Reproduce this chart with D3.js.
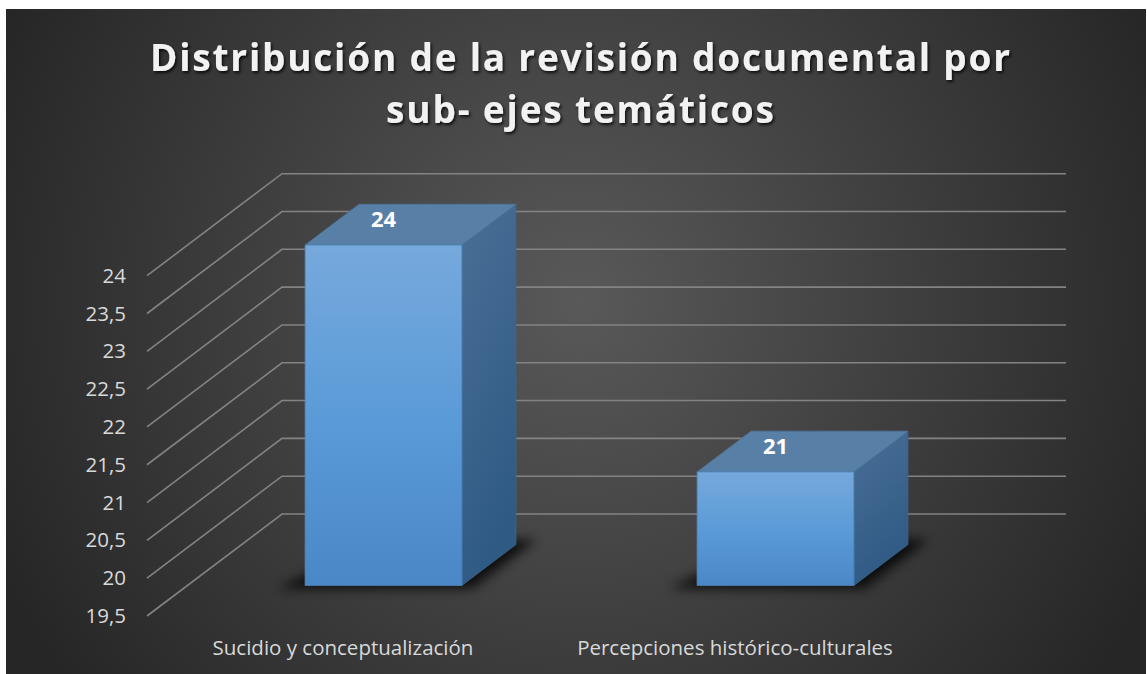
<!DOCTYPE html>
<html>
<head>
<meta charset="utf-8">
<script src="https://cdn.jsdelivr.net/npm/d3@7"></script>
<style>
  html, body { margin: 0; padding: 0; background: #fff; }
  svg { display: block; }
  text { font-family: "Open Sans", "Noto Sans", sans-serif; }
</style>
</head>
<body>
<svg width="1147" height="674"></svg>
<script>
// chart data
const categories = ['Sucidio y conceptualización', 'Percepciones histórico-culturales'];
const values = [24, 21];
const titleLines = ['Distribución de la revisión documental por', 'sub- ejes temáticos'];
const yMin = 19.5, yMax = 24;

const svg = d3.select('svg'),
      width = +svg.attr('width'),
      height = +svg.attr('height');

const defs = svg.append('defs');

const bg = defs.append('radialGradient')
    .attr('id', 'bg')
    .attr('gradientUnits', 'userSpaceOnUse')
    .attr('cx', 580).attr('cy', 300).attr('r', 640);
bg.append('stop').attr('offset', '0%').attr('stop-color', '#595959');
bg.append('stop').attr('offset', '100%').attr('stop-color', '#262626');

const front = defs.append('linearGradient')
    .attr('id', 'front').attr('x1', 0).attr('y1', 0).attr('x2', 0).attr('y2', 1);
front.append('stop').attr('offset', '0%').attr('stop-color', '#76a9dc');
front.append('stop').attr('offset', '50%').attr('stop-color', '#5b9bd8');
front.append('stop').attr('offset', '100%').attr('stop-color', '#4a87c6');

const side = defs.append('linearGradient')
    .attr('id', 'side').attr('x1', 0).attr('y1', 0).attr('x2', 0.3).attr('y2', 1);
side.append('stop').attr('offset', '0%').attr('stop-color', '#4a6f96');
side.append('stop').attr('offset', '100%').attr('stop-color', '#2f5a84');

const blur = defs.append('filter').attr('id', 'blur')
    .attr('x', '-20%').attr('y', '-50%').attr('width', '140%').attr('height', '200%');
blur.append('feGaussianBlur').attr('stdDeviation', 6);

const tshadow = defs.append('filter').attr('id', 'tshadow');
tshadow.append('feDropShadow')
    .attr('dx', 1.5).attr('dy', 2).attr('stdDeviation', 1.5)
    .attr('flood-color', '#000').attr('flood-opacity', 0.8);

// chart area
svg.append('rect')
    .attr('x', 6).attr('y', 9)
    .attr('width', width - 7).attr('height', height - 9)
    .attr('fill', 'url(#bg)');

// 3d geometry: front plane + depth vector
const originX = 147,
      floorW = 784,
      depthX = 135,
      depthY = -102,
      barD0 = 0.30,
      barD1 = 0.70;

const y = d3.scaleLinear().domain([yMin, yMax]).range([616, 275.7]);
const x = d3.scaleBand().domain(categories).range([0, floorW])
    .paddingInner(0.6).paddingOuter(0.3);

const proj = (px, v, d) => [originX + px + depthX * d, y(v) + depthY * d];

const fmt = d3.formatLocale({decimal: ',', thousands: '.', grouping: [3], currency: ['', '']}).format('~g');
const ticks = y.ticks(10);

// gridlines
svg.append('g')
  .selectAll('path')
  .data(ticks)
  .join('path')
    .attr('d', t => d3.line()([proj(0, t, 0), proj(0, t, 1), proj(floorW, t, 1)]))
    .attr('fill', 'none')
    .attr('stroke', '#838383')
    .attr('stroke-width', 1.6);

// tick labels
svg.append('g')
  .selectAll('text')
  .data(ticks)
  .join('text')
    .attr('x', 126)
    .attr('y', t => y(t) + 7)
    .attr('text-anchor', 'end')
    .attr('font-size', 20.5)
    .attr('fill', '#d9d9d9')
    .text(t => fmt(t));

// bars
const bars = svg.append('g')
  .selectAll('g')
  .data(values.map((v, i) => ({cat: categories[i], v})))
  .join('g');

// floor shadow
bars.append('path')
    .attr('d', d => {
      const x0 = x(d.cat) - 24, x1 = x(d.cat) + x.bandwidth() + 14;
      return d3.line()([proj(x0, yMin, barD0 - 0.03), proj(x1, yMin, barD0 - 0.03),
                        proj(x1, yMin, barD1 + 0.05), proj(x0 + 40, yMin, barD1 + 0.05)]) + 'Z';
    })
    .attr('fill', '#000')
    .attr('opacity', 0.8)
    .attr('filter', 'url(#blur)');

bars.append('path')
    .attr('d', d => {
      const x0 = x(d.cat), x1 = x0 + x.bandwidth();
      return d3.line()([proj(x1, d.v, barD0), proj(x1, d.v, barD1),
                        proj(x1, yMin, barD1), proj(x1, yMin, barD0)]) + 'Z';
    })
    .attr('fill', 'url(#side)')
    .attr('stroke', '#3d6791').attr('stroke-width', 0.8);

bars.append('path')
    .attr('d', d => {
      const x0 = x(d.cat), x1 = x0 + x.bandwidth();
      return d3.line()([proj(x0, d.v, barD0), proj(x1, d.v, barD0),
                        proj(x1, d.v, barD1), proj(x0, d.v, barD1)]) + 'Z';
    })
    .attr('fill', '#587fa6')
    .attr('stroke', '#4c76a0').attr('stroke-width', 0.8);

bars.append('path')
    .attr('d', d => {
      const x0 = x(d.cat), x1 = x0 + x.bandwidth();
      return d3.line()([proj(x0, d.v, barD0), proj(x1, d.v, barD0),
                        proj(x1, yMin, barD0), proj(x0, yMin, barD0)]) + 'Z';
    })
    .attr('fill', 'url(#front)')
    .attr('stroke', '#4f86bd').attr('stroke-width', 0.8);

// value labels
bars.append('text')
    .attr('x', d => proj(x(d.cat) + x.bandwidth() / 2, d.v, barD0)[0])
    .attr('y', d => proj(0, d.v, barD0)[1] - 18)
    .attr('text-anchor', 'middle')
    .attr('font-size', 22)
    .attr('font-weight', 'bold')
    .attr('fill', '#fff')
    .text(d => d.v);

// category labels
svg.append('g')
  .selectAll('text')
  .data(categories)
  .join('text')
    .attr('x', c => originX + x(c) + x.bandwidth() / 2)
    .attr('y', 655)
    .attr('text-anchor', 'middle')
    .attr('font-size', 20.5)
    .attr('fill', '#d9d9d9')
    .text(c => c);

// title
const titleLens = [860, 388];
svg.append('g')
  .selectAll('text')
  .data(titleLines)
  .join('text')
    .attr('x', 580)
    .attr('y', (d, i) => 71 + i * 52)
    .attr('text-anchor', 'middle')
    .attr('font-size', 37)
    .attr('font-weight', 'bold')
    .attr('fill', '#f2f2f2')
    .attr('textLength', (d, i) => titleLens[i])
    .attr('lengthAdjust', 'spacing')
    .attr('filter', 'url(#tshadow)')
    .text(d => d);
</script>
</body>
</html>
